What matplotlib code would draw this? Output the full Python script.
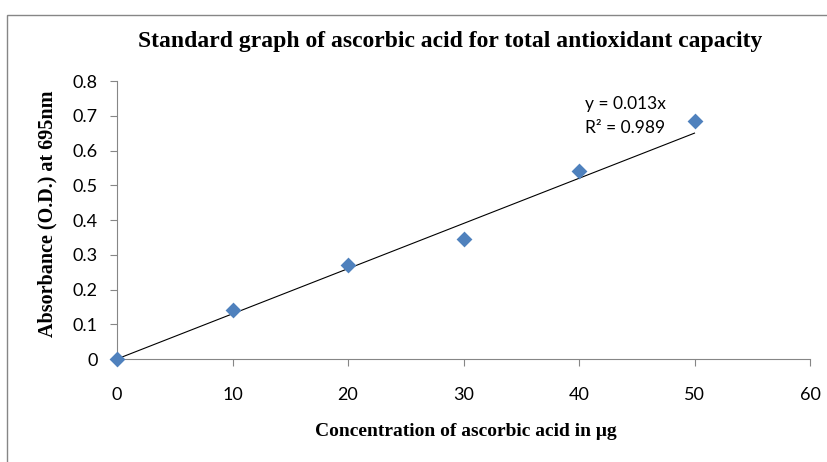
#!/usr/bin/env python3
"""Standard curve of ascorbic acid (total antioxidant capacity)."""

import matplotlib
matplotlib.use("Agg")
import matplotlib.pyplot as plt
from matplotlib.patches import Rectangle
import numpy as np

# values
conc_ug = [0, 10, 20, 30, 40, 50]
absorbance = [0.0, 0.14, 0.27, 0.345, 0.54, 0.685]
slope = 0.013
r_squared = 0.989
x_ticks = [0, 10, 20, 30, 40, 50, 60]
y_ticks = [0, 0.1, 0.2, 0.3, 0.4, 0.5, 0.6, 0.7, 0.8]

SERIF = ["Liberation Serif", "DejaVu Serif"]
SANS = ["Lato", "Liberation Sans", "DejaVu Sans"]
SPINE = "#868686"


def main() -> int:
    fig = plt.figure(figsize=(8.27, 4.62), dpi=100)
    # chart-area frame, cropped on the right and bottom
    fig.patches.append(Rectangle((7 / 827, -0.1), 1.2, 1 - 15 / 462 + 0.1,
                                 transform=fig.transFigure, fill=False,
                                 edgecolor=SPINE, linewidth=1.0))

    ax = fig.add_axes([117 / 827, 1 - 359 / 462, (810 - 117) / 827, (359 - 81) / 462])

    fit_x = np.array([conc_ug[0], conc_ug[-1]])
    ax.plot(fit_x, slope * fit_x, color="black", linewidth=0.8, zorder=2)
    ax.scatter(conc_ug, absorbance, marker="D", s=65, color="#4F81BD",
               linewidths=0, zorder=3, clip_on=False)

    ax.set_xlim(0, 60)
    ax.set_ylim(0, 0.8)
    ax.set_xticks(x_ticks)
    ax.set_yticks(y_ticks)
    ax.set_xticklabels([str(v) for v in x_ticks], family=SANS, fontsize=13)
    ax.set_yticklabels([f"{v:g}" for v in y_ticks], family=SANS, fontsize=13)
    ax.tick_params(direction="out", length=5, width=0.8, color=SPINE)
    ax.tick_params(axis="x", pad=15)
    ax.tick_params(axis="y", pad=9)

    for side in ("top", "right"):
        ax.spines[side].set_visible(False)
    for side in ("left", "bottom"):
        ax.spines[side].set_color(SPINE)
        ax.spines[side].set_linewidth(0.8)

    fig.text(450 / 827, 1 - 42 / 462, "Standard graph of ascorbic acid for total antioxidant capacity",
             family=SERIF, weight="bold", fontsize=17, ha="center", va="center")
    fig.text(466 / 827, 1 - 432 / 462, "Concentration of ascorbic acid in μg",
             family=SERIF, weight="bold", fontsize=14, ha="center", va="center")
    fig.text(47 / 827, 1 - 214 / 462, "Absorbance (O.D.) at 695nm",
             family=SERIF, weight="bold", fontsize=14.5, ha="center", va="center",
             rotation=90)

    ax.text(585 / 827, 1 - 104 / 462, f"y = {slope}x", family=SANS, fontsize=12.5,
            transform=fig.transFigure, ha="left", va="center")
    ax.text(585 / 827, 1 - 128 / 462, f"R² = {r_squared}", family=SANS, fontsize=12.5,
            transform=fig.transFigure, ha="left", va="center")

    fig.savefig("out.png", dpi=100)
    return 0


if __name__ == "__main__":
    raise SystemExit(main())
